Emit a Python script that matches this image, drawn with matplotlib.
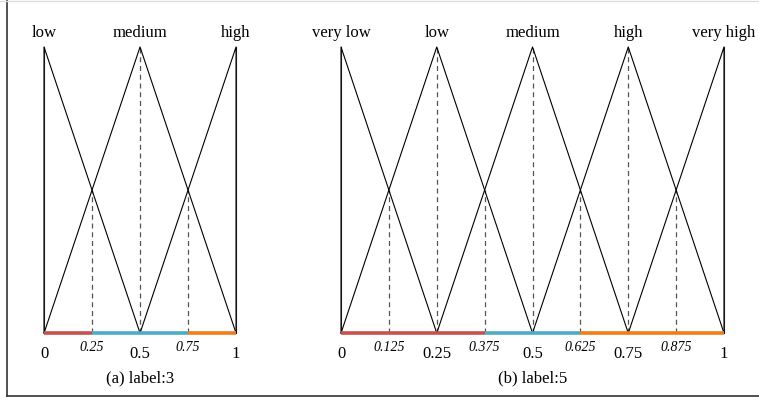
import matplotlib.pyplot as plt
from matplotlib.lines import Line2D

# ============================================================
# DATA
# ============================================================
labels_3 = ['low', 'medium', 'high']
labels_5 = ['very low', 'low', 'medium', 'high', 'very high']

ticks_3 = [0, 0.5, 1]
ticks_5 = [0, 0.25, 0.5, 0.75, 1]
tick_text_3 = ['0', '0.5', '1']
tick_text_5 = ['0', '0.25', '0.5', '0.75', '1']

mid_3 = [0.25, 0.75]
mid_5 = [0.125, 0.375, 0.625, 0.875]
mid_text_3 = ['0.25', '0.75']
mid_text_5 = ['0.125', '0.375', '0.625', '0.875']

# coloured intervals on the baseline: (start, end)
segments_3 = [(0, 0.25), (0.25, 0.75), (0.75, 1)]
segments_5 = [(0, 0.375), (0.375, 0.625), (0.625, 1)]

captions = ['(a) label:3', '(b) label:5']

# ============================================================
# STYLE
# ============================================================
SEG_COLOURS = ['#c9504d', '#4bacc6', '#f07d1a']
plt.rcParams['font.family'] = ['Liberation Serif', 'DejaVu Serif']

fig = plt.figure(figsize=(7.59, 3.98), dpi=100)
ax_a = fig.add_axes([0.058, 0.163, 0.253, 0.719])
ax_b = fig.add_axes([0.4493, 0.163, 0.5046, 0.719])


def draw_panel(ax, names, ticks, tick_text, mids, mid_text, segments, caption):
    n = len(ticks)
    step = ticks[1] - ticks[0]
    for i, c in enumerate(ticks):
        left = c - step if i > 0 else c
        right = c + step if i < n - 1 else c
        ax.plot([left, c, right], [0, 1, 0], color='black', lw=0.8,
                clip_on=False, zorder=3)
        if i == 0 or i == n - 1:
            ax.plot([c, c], [0, 1], color='#333333', lw=0.8, clip_on=False, zorder=2)
        else:
            ax.plot([c, c], [0, 1], color='#555555', lw=0.9, ls=(0, (4, 3)),
                    clip_on=False, zorder=2)
        ax.text(c, 1.022, names[i], ha='center', va='bottom', fontsize=12)
        ax.text(c, -0.045, tick_text[i], ha='center', va='top', fontsize=12)
    for m, t in zip(mids, mid_text):
        ax.plot([m, m], [0, 0.5], color='#555555', lw=0.9, ls=(0, (4, 3)),
                clip_on=False, zorder=2)
        ax.text(m, -0.028, t, ha='center', va='top', fontsize=10, style='italic')
    for (s, e), col in zip(segments, SEG_COLOURS):
        ax.plot([s, e], [0, 0], color=col, lw=2.6, solid_capstyle='butt',
                clip_on=False, zorder=4)
    ax.text(0.5, -0.13, caption, ha='center', va='top', fontsize=12,
            transform=ax.transAxes)
    ax.set_xlim(0, 1)
    ax.set_ylim(0, 1)
    ax.axis('off')


draw_panel(ax_a, labels_3, ticks_3, tick_text_3, mid_3, mid_text_3, segments_3, captions[0])
draw_panel(ax_b, labels_5, ticks_5, tick_text_5, mid_5, mid_text_5, segments_5, captions[1])

# figure frame
fig.add_artist(Line2D([7 / 759, 7 / 759], [2 / 398, 1], color='#333333', lw=1.2))
fig.add_artist(Line2D([7 / 759, 1], [2 / 398, 2 / 398], color='#333333', lw=1.2))
fig.add_artist(Line2D([0, 1], [397.5 / 398, 397.5 / 398], color='#dddddd', lw=1.0))

fig.savefig('out.png', dpi=100)
